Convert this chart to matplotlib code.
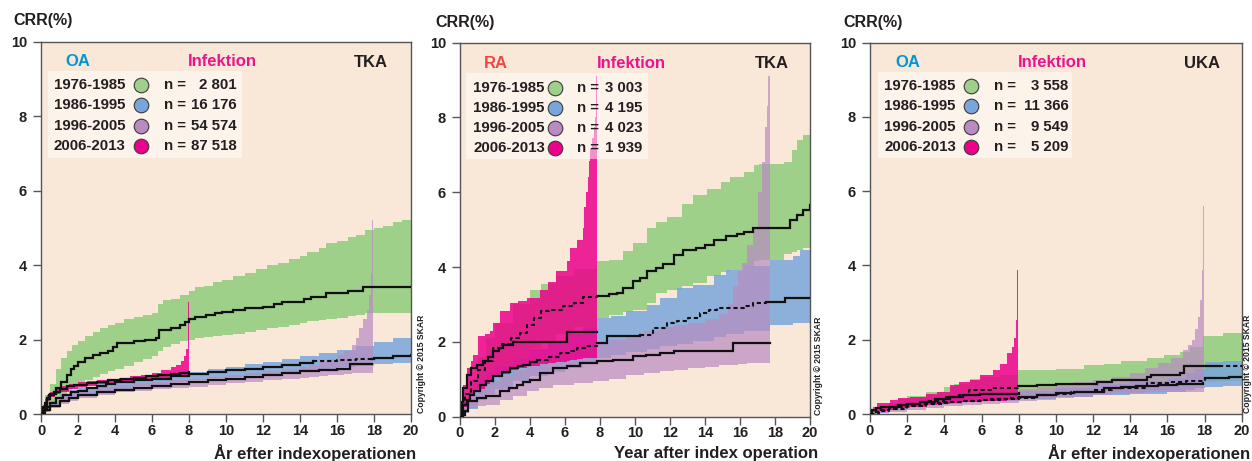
import numpy as np
import matplotlib
matplotlib.use("Agg")
import matplotlib.pyplot as plt
from matplotlib.patches import Rectangle

plt.rcParams['font.family'] = ['Liberation Sans', 'DejaVu Sans']
plt.rcParams['font.weight'] = 'bold'

# ---------------- data ----------------
periods = ["1976-1985", "1986-1995", "1996-2005", "2006-2013"]
p1_n = ["2 801", "16 176", "54 574", "87 518"]
p2_n = ["3 003", "4 195", "4 023", "1 939"]
p3_n = ["3 558", "11 366", "9 549", "5 209"]
x_ticks = [0, 2, 4, 6, 8, 10, 12, 14, 16, 18, 20]
y_ticks = [0, 2, 4, 6, 8, 10]

# Panel 1 : OA, TKA
p1_green_bx = [0, 0.2, 0.5, 0.8, 1.1, 1.4, 1.7, 2.0, 2.4, 2.8, 3.2, 3.6, 4.0, 4.5, 5.0, 5.5, 6.0, 6.3, 6.6, 7.0, 7.5, 8.0, 8.3, 8.8, 9.3, 9.8, 10.4, 11.0, 11.6, 12.2, 12.8, 13.4, 14.0, 14.4, 15.0, 15.4, 16.0, 16.6, 17.0, 17.5, 18.0, 18.5, 19.0, 19.5, 20.0]
p1_green_hi = [0.1, 0.5, 0.8, 1.2, 1.5, 1.7, 1.85, 1.95, 2.1, 2.2, 2.3, 2.4, 2.45, 2.55, 2.6, 2.65, 2.7, 2.95, 3.05, 3.1, 3.2, 3.3, 3.4, 3.45, 3.55, 3.6, 3.7, 3.8, 3.9, 4.0, 4.05, 4.15, 4.25, 4.35, 4.45, 4.6, 4.65, 4.75, 4.8, 4.95, 5.0, 5.05, 5.15, 5.2, 5.28]
p1_green_lo = [0, 0.05, 0.2, 0.35, 0.5, 0.62, 0.72, 0.8, 0.9, 1.0, 1.08, 1.15, 1.2, 1.3, 1.4, 1.48, 1.55, 1.7, 1.8, 1.88, 1.95, 2.0, 2.05, 2.08, 2.1, 2.13, 2.15, 2.2, 2.25, 2.3, 2.35, 2.4, 2.45, 2.5, 2.53, 2.55, 2.58, 2.62, 2.66, 2.7, 2.7, 2.7, 2.7, 2.7, 2.7]
p1_green_x = [0, 0.1, 0.3, 0.5, 0.8, 1.1, 1.4, 1.6, 1.8, 2.0, 2.4, 2.8, 3.2, 3.6, 3.9, 4.1, 5.0, 5.6, 6.2, 6.4, 7.0, 7.5, 7.8, 8.0, 8.3, 8.9, 9.4, 9.8, 10.4, 11.0, 12.0, 12.6, 13.0, 14.2, 14.6, 15.4, 16.6, 17.4, 20.0]
p1_green_y = [0, 0.2, 0.4, 0.55, 0.7, 0.85, 1.05, 1.2, 1.3, 1.4, 1.5, 1.58, 1.63, 1.7, 1.8, 1.9, 1.95, 2.0, 2.05, 2.25, 2.3, 2.4, 2.48, 2.55, 2.6, 2.65, 2.7, 2.75, 2.8, 2.85, 2.88, 2.95, 3.0, 3.08, 3.15, 3.25, 3.3, 3.42, 3.42]

p1_blue_bx = [0, 0.2, 0.5, 1.0, 1.5, 2.0, 3.0, 4.0, 5.0, 6.0, 7.0, 8.0, 9.0, 10.0, 11.0, 12.0, 13.0, 14.0, 15.0, 16.0, 17.0, 18.0, 19.0, 20.0]
p1_blue_lo = [0, 0.05, 0.2, 0.33, 0.42, 0.48, 0.6, 0.68, 0.74, 0.79, 0.85, 0.92, 0.96, 1.0, 1.04, 1.08, 1.12, 1.15, 1.2, 1.25, 1.29, 1.33, 1.36, 1.37]
p1_blue_hi = [0.05, 0.2, 0.35, 0.55, 0.65, 0.72, 0.82, 0.9, 0.97, 1.02, 1.07, 1.13, 1.2, 1.27, 1.33, 1.4, 1.48, 1.56, 1.64, 1.72, 1.82, 1.94, 2.05, 2.15]
p1_blue_x = [0, 0.1, 0.3, 0.5, 0.8, 1.2, 1.6, 2.0, 2.5, 3.0, 3.5, 4.0, 5.0, 6.0, 7.0, 8.0, 9.0, 10.0, 11.0, 12.0, 13.0, 14.0, 14.7, 16.0, 17.0, 18.0, 19.0, 20.0]
p1_blue_y = [0, 0.1, 0.2, 0.3, 0.42, 0.5, 0.58, 0.63, 0.7, 0.76, 0.8, 0.85, 0.9, 0.95, 1.02, 1.08, 1.12, 1.17, 1.22, 1.27, 1.32, 1.37, 1.42, 1.44, 1.47, 1.5, 1.55, 1.58]
p1_blue_dash = [(14.7, 17.9)]

p1_purple_bx = [0, 0.2, 0.5, 1.0, 1.5, 2.0, 3.0, 4.0, 5.0, 6.0, 7.0, 8.0, 9.0, 10.0, 11.0, 12.0, 13.0, 14.0, 14.5, 15.0, 15.5, 16.0, 16.4, 16.8, 17.0, 17.2, 17.4, 17.6, 17.75, 17.83, 17.9, 17.96]
p1_purple_lo = [0, 0.05, 0.15, 0.28, 0.36, 0.42, 0.52, 0.58, 0.63, 0.67, 0.7, 0.73, 0.78, 0.82, 0.86, 0.9, 0.94, 0.98, 1.0, 1.02, 1.04, 1.06, 1.08, 1.1, 1.1, 1.1, 1.1, 1.1, 1.1, 1.1, 1.1, 1.1]
p1_purple_hi = [0.05, 0.2, 0.35, 0.5, 0.58, 0.63, 0.72, 0.78, 0.82, 0.86, 0.9, 0.95, 1.0, 1.05, 1.1, 1.15, 1.2, 1.26, 1.32, 1.4, 1.48, 1.58, 1.7, 1.85, 2.05, 2.3, 2.55, 2.8, 3.2, 3.8, 5.2, 5.2]
p1_purple_x = [0, 0.2, 0.5, 1.0, 1.5, 2.0, 3.0, 4.0, 5.0, 6.0, 7.0, 8.0, 9.0, 10.0, 11.0, 12.0, 13.0, 14.0, 15.0, 16.0, 16.7, 17.9]
p1_purple_y = [0, 0.1, 0.22, 0.35, 0.43, 0.5, 0.58, 0.64, 0.7, 0.75, 0.8, 0.86, 0.9, 0.95, 1.0, 1.05, 1.1, 1.15, 1.19, 1.22, 1.34, 1.34]

p1_pink_bx = [0, 0.1, 0.2, 0.35, 0.5, 0.75, 1.0, 1.5, 2.0, 2.5, 3.0, 3.6, 4.2, 4.8, 5.4, 6.0, 6.5, 7.0, 7.3, 7.55, 7.75, 7.86, 7.92, 7.96, 8.02]
p1_pink_lo = [0, 0.1, 0.2, 0.35, 0.45, 0.53, 0.6, 0.67, 0.72, 0.76, 0.8, 0.83, 0.86, 0.89, 0.92, 0.95, 0.97, 0.99, 1.0, 1.0, 1.0, 1.0, 1.0, 1.0, 1.0]
p1_pink_hi = [0.1, 0.25, 0.4, 0.5, 0.6, 0.68, 0.75, 0.8, 0.85, 0.89, 0.92, 0.95, 0.98, 1.01, 1.05, 1.1, 1.17, 1.25, 1.32, 1.42, 1.55, 1.75, 1.95, 3.0, 3.0]
p1_pink_x = [0, 0.1, 0.2, 0.3, 0.45, 0.7, 1.0, 1.4, 1.8, 2.5, 3.0, 3.6, 4.3, 5.0, 5.7, 6.3, 7.0, 7.5, 8.0]
p1_pink_y = [0, 0.15, 0.3, 0.42, 0.5, 0.6, 0.68, 0.74, 0.78, 0.83, 0.87, 0.9, 0.94, 0.98, 1.01, 1.05, 1.08, 1.1, 1.14]

# Panel 2 : RA, TKA
p2_green_bx = [0, 0.2, 0.5, 1.0, 1.5, 2.0, 3.0, 4.0, 4.6, 5.5, 6.5, 7.8, 8.5, 9.3, 9.9, 10.7, 11.2, 11.8, 12.7, 13.3, 14.1, 14.9, 15.4, 16.2, 16.8, 17.1, 18.5, 18.95, 19.25, 19.6, 20.0]
p2_green_lo = [0, 0.1, 0.3, 0.6, 0.85, 1.1, 1.5, 1.85, 2.0, 2.2, 2.4, 2.64, 2.73, 2.8, 2.86, 3.04, 3.31, 3.4, 3.5, 3.57, 3.75, 3.88, 3.92, 4.0, 4.15, 4.2, 4.35, 4.4, 4.45, 4.5, 4.5]
p2_green_hi = [0.1, 0.5, 1.0, 1.6, 2.1, 2.5, 3.0, 3.4, 3.55, 3.75, 3.95, 4.15, 4.2, 4.42, 4.64, 5.05, 5.2, 5.35, 5.7, 5.93, 6.1, 6.28, 6.42, 6.55, 6.73, 6.77, 6.82, 7.13, 7.4, 7.53, 7.57]
p2_green_x = [0, 0.15, 0.3, 0.6, 1.0, 1.4, 1.9, 2.4, 2.9, 3.4, 3.8, 4.2, 4.6, 5.1, 5.9, 6.5, 7.05, 7.8, 8.5, 8.95, 9.33, 9.9, 10.3, 10.67, 11.2, 11.6, 12.2, 12.76, 13.5, 14.0, 14.5, 15.2, 15.8, 16.2, 16.76, 18.86, 19.24, 19.6, 20.0]
p2_green_y = [0, 0.3, 0.6, 0.95, 1.25, 1.5, 1.84, 1.95, 2.1, 2.25, 2.46, 2.65, 2.82, 2.86, 2.95, 3.04, 3.2, 3.24, 3.28, 3.31, 3.44, 3.62, 3.7, 3.89, 3.98, 4.07, 4.33, 4.47, 4.51, 4.6, 4.73, 4.82, 4.88, 4.94, 5.04, 5.26, 5.39, 5.53, 5.66]
p2_green_dash = [(0, 7.8)]

p2_blue_bx = [0, 0.2, 0.5, 1.0, 1.5, 2.0, 3.0, 4.0, 5.0, 6.0, 7.0, 7.8, 8.6, 9.5, 10.67, 11.4, 12.4, 13.3, 14.5, 15.2, 16.2, 17.7, 19.0, 19.4, 20.0]
p2_blue_lo = [0, 0.1, 0.2, 0.45, 0.6, 0.75, 0.95, 1.1, 1.2, 1.3, 1.42, 1.57, 1.65, 1.72, 1.8, 1.88, 1.95, 2.02, 2.12, 2.2, 2.3, 2.46, 2.5, 2.5, 2.5]
p2_blue_hi = [0.1, 0.4, 0.65, 1.0, 1.2, 1.35, 1.55, 1.8, 2.0, 2.2, 2.4, 2.64, 2.7, 2.82, 2.99, 3.17, 3.44, 3.53, 3.8, 3.93, 4.02, 4.2, 4.29, 4.47, 4.53]
p2_blue_x = [0, 0.19, 0.4, 0.57, 0.8, 1.14, 1.5, 1.9, 2.4, 2.86, 3.3, 3.6, 4.0, 4.4, 5.0, 5.7, 6.2, 6.67, 7.2, 7.8, 8.4, 9.9, 10.3, 11.0, 11.8, 12.4, 13.0, 13.7, 14.2, 14.7, 16.2, 16.76, 17.5, 18.57, 20.0]
p2_blue_y = [0, 0.32, 0.45, 0.59, 0.7, 0.86, 0.95, 1.08, 1.2, 1.3, 1.35, 1.39, 1.45, 1.52, 1.6, 1.7, 1.76, 1.84, 1.9, 1.97, 2.15, 2.15, 2.19, 2.37, 2.5, 2.57, 2.64, 2.77, 2.85, 2.91, 2.95, 3.04, 3.07, 3.17, 3.17]
p2_blue_dash = [(4.4, 7.8), (10.3, 17.5)]

p2_purple_bx = [0, 0.2, 0.5, 1.0, 1.5, 2.3, 3.0, 3.8, 4.5, 5.3, 6.5, 7.6, 8.5, 9.5, 10.5, 11.4, 12.2, 13.0, 14.0, 14.8, 15.3, 15.6, 15.9, 16.1, 16.4, 16.76, 17.0, 17.24, 17.43, 17.52, 17.62, 17.7]
p2_purple_lo = [0, 0.1, 0.23, 0.28, 0.32, 0.45, 0.55, 0.68, 0.78, 0.86, 0.9, 0.95, 1.02, 1.12, 1.18, 1.22, 1.26, 1.3, 1.34, 1.37, 1.39, 1.39, 1.4, 1.42, 1.43, 1.44, 1.44, 1.44, 1.44, 1.44, 1.44, 1.44]
p2_purple_hi = [0.1, 0.35, 0.55, 0.8, 0.95, 1.1, 1.25, 1.4, 1.55, 1.65, 1.8, 1.95, 2.05, 2.15, 2.3, 2.4, 2.45, 2.5, 2.6, 2.75, 3.0, 3.5, 3.9, 4.1, 4.6, 5.05, 6.0, 6.8, 7.75, 8.3, 9.1, 9.1]
p2_purple_x = [0, 0.15, 0.29, 0.48, 0.95, 1.5, 2.3, 2.8, 3.24, 3.6, 4.0, 4.57, 5.33, 6.1, 6.86, 7.8, 8.76, 9.9, 10.6, 11.4, 12.2, 15.6, 17.7]
p2_purple_y = [0, 0.05, 0.14, 0.41, 0.5, 0.55, 0.68, 0.78, 0.86, 0.92, 0.99, 1.17, 1.3, 1.35, 1.44, 1.48, 1.52, 1.61, 1.65, 1.7, 1.75, 1.97, 1.97]

p2_pink_bx = [0, 0.1, 0.19, 0.38, 0.6, 0.76, 1.05, 1.4, 1.7, 1.9, 2.3, 2.86, 3.3, 3.8, 4.57, 5.0, 5.5, 6.1, 6.3, 6.67, 7.05, 7.1, 7.2, 7.3, 7.35, 7.45, 7.55, 7.65, 7.72, 7.76, 7.8]
p2_pink_lo = [0, 0.1, 0.25, 0.4, 0.55, 0.65, 0.75, 0.88, 0.98, 1.05, 1.15, 1.25, 1.3, 1.35, 1.4, 1.43, 1.46, 1.5, 1.52, 1.54, 1.56, 1.56, 1.56, 1.57, 1.57, 1.57, 1.57, 1.57, 1.57, 1.57, 1.57]
p2_pink_hi = [0.1, 0.4, 0.86, 1.3, 1.5, 1.66, 2.15, 2.2, 2.28, 2.5, 2.82, 3.04, 3.1, 3.17, 3.4, 3.6, 3.9, 4.15, 4.51, 4.73, 5.05, 5.6, 6.0, 6.4, 6.85, 7.15, 7.45, 7.75, 8.0, 9.1, 9.1]
p2_pink_x = [0, 0.1, 0.19, 0.38, 0.6, 0.95, 1.33, 1.6, 1.9, 2.2, 2.48, 3.05, 6.1, 7.85]
p2_pink_y = [0, 0.4, 0.77, 1.12, 1.3, 1.39, 1.48, 1.6, 1.75, 1.85, 1.93, 2.0, 2.27, 2.27]

# Panel 3 : OA, UKA
p3_green_bx = [0, 0.3, 0.6, 1.0, 1.5, 2.0, 3.0, 4.0, 4.5, 5.4, 6.0, 7.0, 7.9, 10.0, 11.5, 12.6, 13.5, 14.9, 15.8, 16.7, 17.2, 17.9, 19.0, 20.0]
p3_green_lo = [0, 0.03, 0.06, 0.1, 0.15, 0.2, 0.25, 0.3, 0.33, 0.37, 0.4, 0.43, 0.47, 0.5, 0.55, 0.58, 0.6, 0.65, 0.7, 0.75, 0.8, 0.87, 0.88, 0.9]
p3_green_hi = [0.05, 0.15, 0.22, 0.3, 0.4, 0.48, 0.6, 0.72, 0.8, 0.95, 1.0, 1.05, 1.18, 1.22, 1.32, 1.36, 1.42, 1.5, 1.58, 1.68, 1.8, 2.1, 2.18, 2.24]
p3_green_x = [0, 0.3, 0.6, 1.0, 1.5, 2.0, 3.0, 4.0, 4.8, 5.3, 6.5, 7.95, 9.0, 10.0, 12.2, 13.0, 14.9, 15.1, 16.7, 16.9, 20.0]
p3_green_y = [0, 0.06, 0.12, 0.18, 0.23, 0.28, 0.35, 0.45, 0.52, 0.65, 0.7, 0.76, 0.79, 0.82, 0.87, 0.92, 1.0, 1.05, 1.1, 1.28, 1.28]
p3_green_dash = [(0, 7.95), (18.8, 20.0)]

p3_blue_bx = [0, 0.3, 1.0, 2.0, 3.0, 4.0, 5.0, 6.0, 8.0, 10.0, 12.0, 14.0, 16.0, 17.0, 17.5, 18.0, 19.0, 20.0]
p3_blue_lo = [0, 0.02, 0.1, 0.18, 0.23, 0.28, 0.32, 0.35, 0.4, 0.45, 0.5, 0.55, 0.6, 0.65, 0.7, 0.73, 0.75, 0.78]
p3_blue_hi = [0.05, 0.15, 0.25, 0.33, 0.4, 0.46, 0.52, 0.56, 0.62, 0.7, 0.8, 0.88, 0.98, 1.1, 1.2, 1.4, 1.43, 1.47]
p3_blue_x = [0, 0.5, 1.0, 2.0, 3.0, 4.0, 5.0, 6.0, 7.0, 8.0, 9.0, 10.0, 10.8, 12.0, 13.0, 14.9, 16.1, 17.0, 18.0, 19.3, 20.0]
p3_blue_y = [0, 0.08, 0.14, 0.22, 0.28, 0.32, 0.35, 0.38, 0.4, 0.42, 0.5, 0.55, 0.6, 0.65, 0.7, 0.83, 0.87, 0.9, 0.96, 1.0, 1.0]
p3_blue_dash = [(0, 18.0)]

p3_purple_bx = [0, 0.5, 1.0, 2.0, 3.0, 4.0, 5.0, 6.0, 7.0, 8.0, 9.0, 10.0, 11.0, 12.0, 13.0, 14.0, 14.8, 15.5, 16.2, 16.86, 17.1, 17.3, 17.5, 17.65, 17.76, 17.85, 17.92, 17.98]
p3_purple_lo = [0, 0.02, 0.05, 0.12, 0.17, 0.21, 0.24, 0.27, 0.3, 0.35, 0.39, 0.43, 0.47, 0.5, 0.53, 0.56, 0.58, 0.59, 0.6, 0.6, 0.6, 0.6, 0.6, 0.6, 0.6, 0.6, 0.6, 0.6]
p3_purple_hi = [0.05, 0.12, 0.2, 0.3, 0.38, 0.45, 0.5, 0.55, 0.6, 0.66, 0.72, 0.78, 0.85, 0.92, 1.0, 1.1, 1.25, 1.38, 1.5, 1.72, 1.85, 1.99, 2.3, 2.6, 3.07, 3.88, 5.6, 5.6]
p3_purple_x = [0, 0.3, 0.6, 1.0, 1.5, 2.0, 2.7, 3.5, 4.3, 5.0, 5.9, 6.5, 7.5, 8.0, 9.0, 10.0, 11.0, 12.6, 13.5, 14.3, 15.5, 16.5, 17.9]
p3_purple_y = [0, 0.05, 0.1, 0.14, 0.18, 0.22, 0.27, 0.3, 0.33, 0.36, 0.38, 0.4, 0.42, 0.47, 0.5, 0.56, 0.6, 0.69, 0.72, 0.75, 0.78, 0.81, 0.83]
p3_purple_dash = [(0, 8.0)]

p3_pink_bx = [0, 0.18, 0.36, 1.08, 1.5, 2.15, 3.0, 3.6, 4.3, 4.8, 5.4, 5.9, 6.6, 7.0, 7.35, 7.62, 7.75, 7.86, 7.93, 7.98]
p3_pink_lo = [0, 0.05, 0.08, 0.12, 0.16, 0.2, 0.25, 0.28, 0.3, 0.31, 0.33, 0.34, 0.35, 0.36, 0.37, 0.37, 0.38, 0.38, 0.38, 0.38]
p3_pink_hi = [0.1, 0.2, 0.29, 0.38, 0.42, 0.47, 0.55, 0.6, 0.78, 0.85, 0.92, 1.05, 1.18, 1.36, 1.63, 1.81, 2.04, 2.53, 3.88, 3.88]
p3_pink_x = [0, 0.1, 0.3, 0.6, 0.9, 1.5, 2.0, 2.7, 3.5, 4.3, 5.0, 5.9, 7.0, 8.0]
p3_pink_y = [0, 0.1, 0.15, 0.18, 0.2, 0.25, 0.28, 0.33, 0.4, 0.47, 0.5, 0.54, 0.55, 0.56]

# ---------------- styles ----------------
BG = '#F9E8D8'
C_GREEN = '#9ED08A'
C_BLUE = '#79A6DA'
C_PURPLE = '#B98BC2'
C_PINK = '#EC008C'
TXT = '#231F20'
C_OA = '#0096D6'
C_RA = '#EF4545'
C_INF = '#EC148C'

W, H = 1252, 461
fig = plt.figure(figsize=(W / 100, H / 100), dpi=100)


def axes_px(left, right, top, bottom):
    return fig.add_axes([left / W, (H - bottom) / H, (right - left) / W, (bottom - top) / H])


def step_val(xs, ys, t):
    i = np.searchsorted(xs, t, side='right') - 1
    i = min(max(i, 0), len(xs) - 1)
    return ys[i]


def draw_line(ax, xs, ys, dashed=()):
    xs = np.asarray(xs, float)
    ys = np.asarray(ys, float)
    x0, x1 = xs[0], xs[-1]
    segs = []
    cur = x0
    for a, b in sorted(dashed):
        a = max(a, x0)
        b = min(b, x1)
        if a > cur:
            segs.append((cur, a, False))
        segs.append((a, b, True))
        cur = b
    if cur < x1:
        segs.append((cur, x1, False))
    for a, b, dsh in segs:
        inner = xs[(xs > a) & (xs < b)]
        px = np.concatenate([[a], inner, [b]])
        py = np.array([step_val(xs, ys, t) for t in px])
        if dsh:
            ax.step(px, py, where='post', color='#111111', lw=1.5,
                    linestyle=(0, (2.0, 1.4)), zorder=6)
        else:
            ax.step(px, py, where='post', color='#111111', lw=1.6, zorder=6,
                    solid_joinstyle='miter')


def band(ax, x, lo, hi, color, alpha, z):
    ax.fill_between(x, lo, hi, step='post', color=color, alpha=alpha, lw=0, zorder=z)


panels = [
    dict(box=(41, 411, 41.7, 414), grp='OA', grp_c=C_OA, kind='TKA',
         title_fx=(0.0986, 0.489, 0.892), legend_box=(0.019, 0.687, 0.524, 0.234),
         rows=(0.8837, 0.8300, 0.7744, 0.7207), cols=(0.0351, 0.2695, 0.3324, 0.5297),
         n=p1_n, xlabel='År efter indexoperationen', xlabel_r=416, crr=(13, 21), copy_x=421, copy_b=413,
         bands=[(p1_green_bx, p1_green_lo, p1_green_hi), (p1_blue_bx, p1_blue_lo, p1_blue_hi),
                (p1_purple_bx, p1_purple_lo, p1_purple_hi), (p1_pink_bx, p1_pink_lo, p1_pink_hi)],
         lines=[(p1_green_x, p1_green_y, []), (p1_blue_x, p1_blue_y, p1_blue_dash),
                (p1_purple_x, p1_purple_y, []), (p1_pink_x, p1_pink_y, [])]),
    dict(box=(460, 810, 42.7, 416.7), grp='RA', grp_c=C_RA, kind='TKA',
         title_fx=(0.1029, 0.4886, 0.890), legend_box=(0.017, 0.689, 0.52, 0.230),
         rows=(0.8797, 0.826, 0.7727, 0.7193), cols=(0.038, 0.27, 0.335, 0.522),
         n=p2_n, xlabel='Year after index operation', xlabel_r=818, crr=(435, 23), copy_x=818.5, copy_b=415,
         bands=[(p2_green_bx, p2_green_lo, p2_green_hi), (p2_blue_bx, p2_blue_lo, p2_blue_hi),
                (p2_purple_bx, p2_purple_lo, p2_purple_hi), (p2_pink_bx, p2_pink_lo, p2_pink_hi)],
         lines=[(p2_green_x, p2_green_y, p2_green_dash), (p2_blue_x, p2_blue_y, p2_blue_dash),
                (p2_purple_x, p2_purple_y, []), (p2_pink_x, p2_pink_y, [])]),
    dict(box=(870, 1241.7, 42.7, 414), grp='OA', grp_c=C_OA, kind='UKA',
         title_fx=(0.1009, 0.4897, 0.892), legend_box=(0.0224, 0.6887, 0.5202, 0.2333),
         rows=(0.8835, 0.8296, 0.7738, 0.7199), cols=(0.0386, 0.271, 0.334, 0.5335),
         n=p3_n, xlabel='År efter indexoperationen', xlabel_r=1250, crr=(843, 23), copy_x=1248, copy_b=413,
         bands=[(p3_green_bx, p3_green_lo, p3_green_hi), (p3_blue_bx, p3_blue_lo, p3_blue_hi),
                (p3_purple_bx, p3_purple_lo, p3_purple_hi), (p3_pink_bx, p3_pink_lo, p3_pink_hi)],
         lines=[(p3_green_x, p3_green_y, p3_green_dash), (p3_blue_x, p3_blue_y, p3_blue_dash),
                (p3_purple_x, p3_purple_y, p3_purple_dash), (p3_pink_x, p3_pink_y, [])]),
]

band_colors = [C_GREEN, C_BLUE, C_PURPLE, C_PINK]
band_alpha = [1.0, 0.85, 0.7, 0.85]

for P in panels:
    ax = axes_px(*P['box'])
    ax.set_facecolor(BG)
    ax.set_xlim(0, 20)
    ax.set_ylim(0, 10)
    ax.set_xticks(x_ticks)
    ax.set_yticks(y_ticks)
    ax.tick_params(axis='both', direction='out', length=5.5, width=1.0, color='#555555',
                   labelsize=10.5, labelcolor=TXT)
    ax.tick_params(axis='x', pad=1.5)
    ax.tick_params(axis='y', pad=4.5)
    for lab in ax.get_xticklabels() + ax.get_yticklabels():
        lab.set_fontweight('bold')
    for s in ax.spines.values():
        s.set_color('#555555')
        s.set_linewidth(1.0)

    for i, (bx, lo, hi) in enumerate(P['bands']):
        band(ax, bx, lo, hi, band_colors[i], band_alpha[i], 2 + i * 0.1)
    for (lx, ly, dsh) in P['lines']:
        draw_line(ax, lx, ly, dsh)

    # legend box
    lb = P['legend_box']
    ax.add_patch(Rectangle((lb[0], lb[1]), lb[2], lb[3], transform=ax.transAxes,
                           facecolor='white', alpha=0.5, lw=0, zorder=8))
    tf = P['title_fx']
    ax.text(tf[0], 0.9455, P['grp'], transform=ax.transAxes, ha='center', va='center',
            fontsize=12, fontweight='bold', color=P['grp_c'], zorder=9)
    ax.text(tf[1], 0.9455, 'Infektion', transform=ax.transAxes, ha='center', va='center',
            fontsize=12, fontweight='bold', color=C_INF, zorder=9)
    ax.text(tf[2], 0.9435, P['kind'], transform=ax.transAxes, ha='center', va='center',
            fontsize=12, fontweight='bold', color=TXT, zorder=9)
    c0, c1, c2, c3 = P['cols']
    for i, fy in enumerate(P['rows']):
        ax.text(c0, fy, periods[i], transform=ax.transAxes, ha='left', va='center',
                fontsize=10.8, fontweight='bold', color=TXT, zorder=9)
        ax.plot([c1], [fy], marker='o', ms=10.5, mfc=band_colors[i], mec='#3a3a3a', mew=0.8,
                transform=ax.transAxes, clip_on=False, zorder=9, ls='none')
        ax.text(c2, fy, 'n =', transform=ax.transAxes, ha='left', va='center',
                fontsize=10.8, fontweight='bold', color=TXT, zorder=9)
        ax.text(c3, fy, P['n'][i], transform=ax.transAxes, ha='right', va='center',
                fontsize=10.8, fontweight='bold', color=TXT, zorder=9)

    fig.text(P['xlabel_r'] / W, (H - 453) / H, P['xlabel'], ha='right', va='center',
             fontsize=12, fontweight='bold', color=TXT)
    fig.text(P['crr'][0] / W, (H - P['crr'][1]) / H, 'CRR(%)', ha='left', va='center',
             fontsize=11.5, fontweight='bold', color=TXT)
    fig.text(P['copy_x'] / W, (H - P['copy_b']) / H, 'Copyright © 2015 SKAR', rotation=90,
             ha='center', va='bottom', fontsize=6.2, fontweight='bold', color=TXT)

fig.savefig('out.png', dpi=100, facecolor='white')
